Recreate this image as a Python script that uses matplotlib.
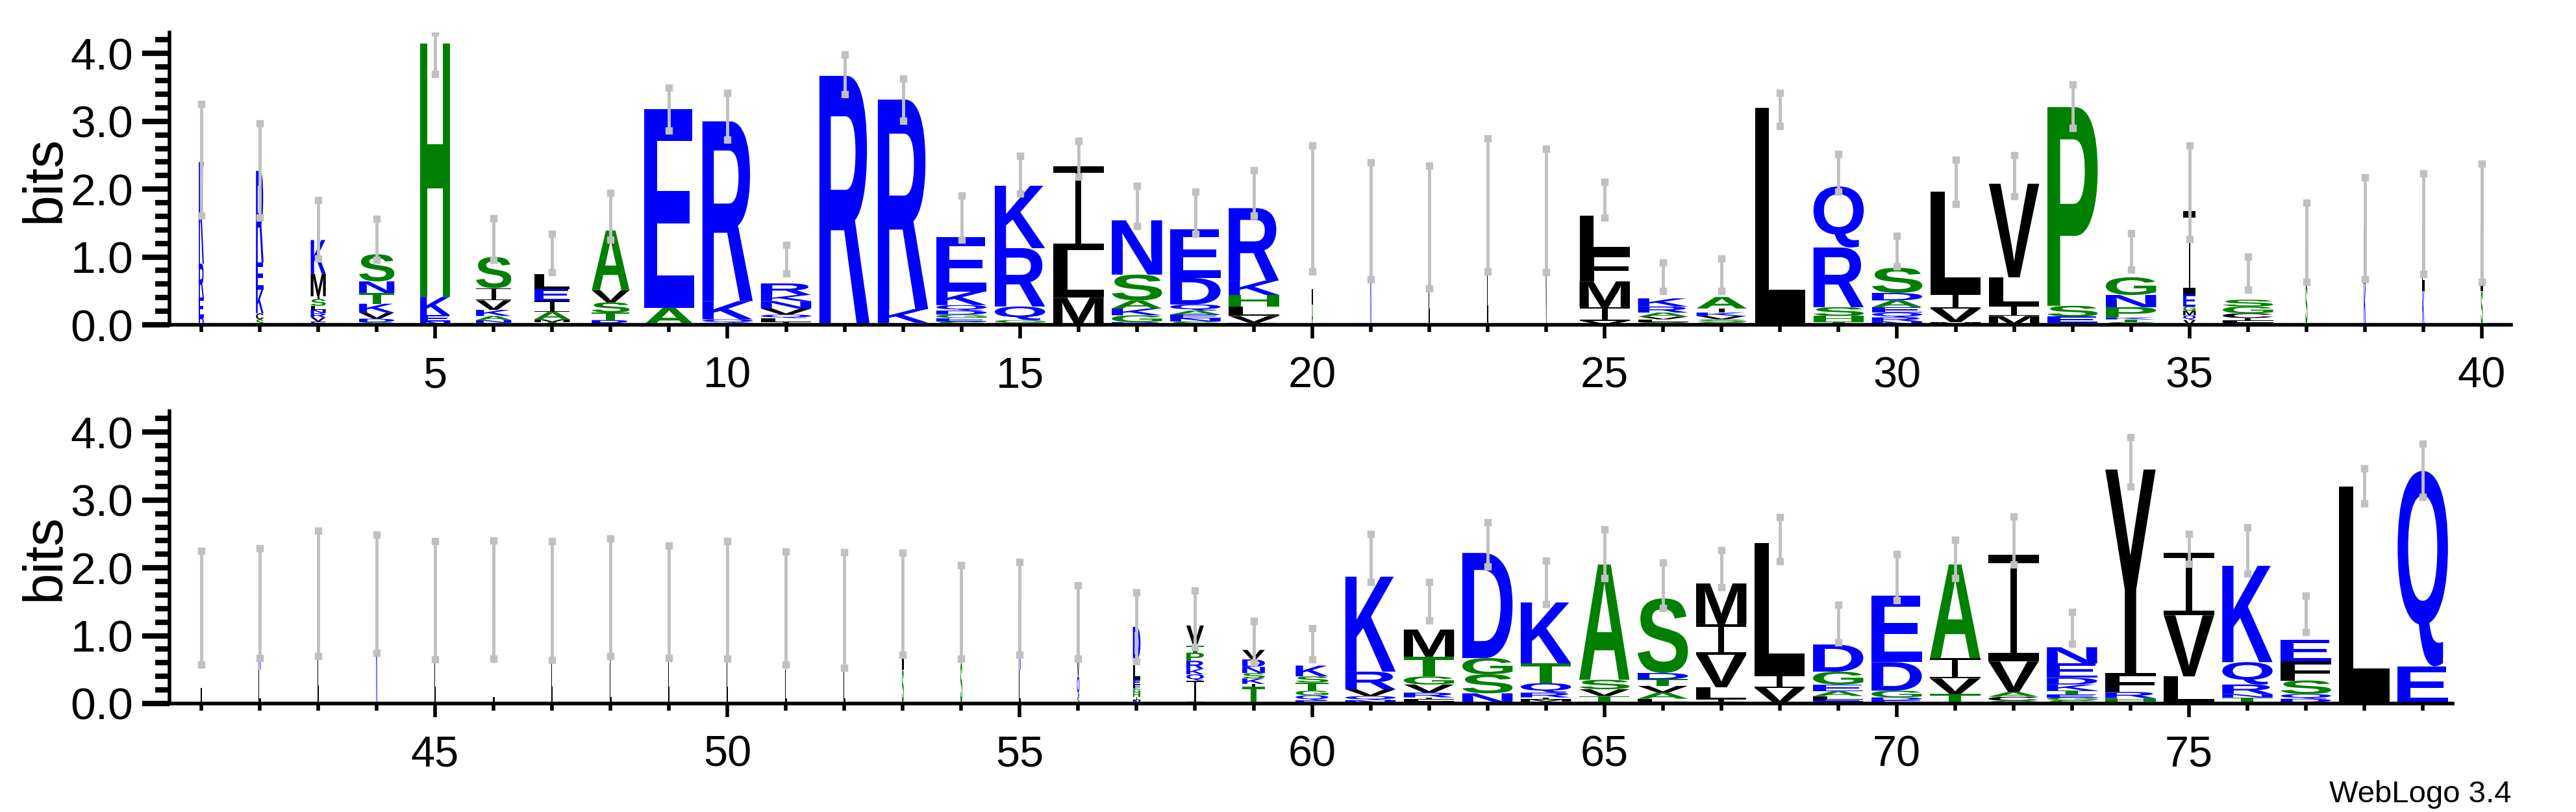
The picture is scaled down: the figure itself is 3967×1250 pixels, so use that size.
import matplotlib
matplotlib.use('Agg')
import matplotlib.pyplot as plt
from matplotlib.textpath import TextPath
from matplotlib.patches import PathPatch
from matplotlib.path import Path
from matplotlib.font_manager import FontProperties
from matplotlib.transforms import Affine2D

# colour scheme: hydrophilic blue, neutral green, hydrophobic black
colors = {}
for c in 'RKDENQ':
	colors[c] = '#0000ff'
for c in 'SGHTAP':
	colors[c] = '#008000'
for c in 'YVMCLFIW':
	colors[c] = '#000000'

# top row, positions 1-40: stacks bottom-to-top (letter, bits)
top_stacks = [
	[('D', .1), ('E', .3), ('R', .5), ('K', 1.5)],
	[('S', .08), ('C', .09), ('K', .35), ('E', .4), ('R', 1.35)],
	[('E', .05), ('V', .06), ('R', .06), ('N', .05), ('L', .06), ('S', .1), ('I', .04), ('M', .33), ('K', .5)],
	[('G', .04), ('D', .05), ('V', .09), ('K', .13), ('T', .16), ('N', .17), ('S', .4)],
	[('N', .05), ('E', .09), ('K', .27), ('H', 3.74)],
	[('L', .03), ('N', .04), ('A', .06), ('K', .09), ('V', .14), ('I', .18), ('S', .46)],
	[('T', .04), ('M', .04), ('A', .11), ('I', .16), ('E', .18), ('L', .22)],
	[('R', .07), ('T', .11), ('S', .15), ('V', .18), ('A', .88)],
	[('A', .25), ('E', 2.93)],
	[('N', .03), ('Q', .05), ('K', .27), ('R', 2.65)],
	[('I', .04), ('L', .06), ('Q', .05), ('V', .09), ('N', .11), ('K', .09), ('R', .17)],
	[('R', 3.67)],
	[('L', .03), ('K', .2), ('R', 3.09)],
	[('S', .05), ('E', .05), ('G', .05), ('D', .06), ('Q', .08), ('K', .2), ('E', .8)],
	[('L', .03), ('G', .04), ('Q', .2), ('R', .86), ('K', .92)],
	[('M', .4), ('L', .7), ('I', 1.24)],
	[('R', .04), ('G', .1), ('K', .1), ('A', .12), ('S', .38), ('N', .8)],
	[('S', .05), ('N', .05), ('E', .05), ('A', .06), ('Q', .09), ('D', .39), ('E', .72)],
	[('K', .03), ('V', .1), ('L', .14), ('H', .17), ('K', .21), ('R', 1.07)],
	[('A', .3), ('L', 1.42)],
	[('K', 1.54)],
	[('L', 1.45)],
	[('L', 1.78)],
	[('V', 1.68)],
	[('V', .06), ('I', .2), ('M', .38), ('F', .42), ('L', .55)],
	[('G', .04), ('L', .04), ('V', .04), ('A', .06), ('R', .09), ('K', .12)],
	[('G', .04), ('S', .04), ('V', .05), ('K', .05), ('I', .06), ('A', .17)],
	[('L', 3.2)],
	[('T', .05), ('H', .08), ('S', .13), ('R', .88), ('Q', .9)],
	[('N', .05), ('R', .06), ('Q', .07), ('E', .08), ('A', .1), ('D', .11), ('S', .37)],
	[('M', .04), ('V', .2), ('I', .22), ('L', 1.5)],
	[('M', .13), ('I', .15), ('L', .42), ('V', 1.38)],
	[('A', .03), ('E', .09), ('S', .16), ('P', 2.93)],
	[('S', .04), ('T', .04), ('K', .03), ('P', .15), ('N', .18), ('G', .26)],
	[('V', .07), ('Q', .07), ('M', .07), ('G', .06), ('E', .18), ('I', 1.23)],
	[('D', .03), ('L', .03), ('I', .04), ('C', .07), ('G', .1), ('S', .1)],
	[('S', .6), ('K', .6)],
	[('K', .6), ('L', .81)],
	[('K', .5), ('L', .98)],
	[('S', .5), ('L', .97)],
]
top_widths = [.1, .15, .3, .7, .6, .7, .7, .75, 1, 1, 1, 1, 1, 1, 1, 1, 1, 1, 1, .03,
	.03, .03, .03, .03, 1, 1, 1, 1, 1, 1, 1, 1, 1, 1, .25, 1, .04, .04, .04, .04]
top_err_lo = [1.61, 1.58, .98, .96, 3.70, .96, .78, 1.25, 2.86, 2.73, .76, 3.40, 3.01, 1.25, 1.93, 2.18, 1.46, 1.34, 1.61, .79,
	.67, .54, .79, .78, 1.58, .50, .50, 2.93, 1.96, .86, 1.78, 1.90, 2.90, .81, 1.26, .52, .63, .67, .75, .63]
top_err_hi = [3.26, 2.97, 1.84, 1.56, 4.31, 1.57, 1.34, 1.94, 3.50, 3.42, 1.18, 3.98, 3.63, 1.91, 2.49, 2.71, 2.05, 1.96, 2.28, 2.64,
	2.39, 2.35, 2.75, 2.60, 2.11, .92, .98, 3.42, 2.52, 1.31, 2.43, 2.50, 3.54, 1.35, 2.64, 1.01, 1.80, 2.17, 2.23, 2.38]

# bottom row, positions 41-79
bot_stacks = [
	[('L', 1.41)],
	[('L', .5), ('K', .97)],
	[('L', 1.63)],
	[('K', 1.55)],
	[('L', 1.53)],
	[('L', .6), ('K', .85)],
	[('L', 1.53)],
	[('L', .6), ('S', .97)],
	[('L', 1.51)],
	[('L', 1.53)],
	[('L', .5), ('S', .9)],
	[('L', .5), ('S', .9)],
	[('S', .5), ('L', .97)],
	[('S', .6), ('K', .76)],
	[('L', .5), ('K', .93)],
	[('S', .1), ('Q', .3), ('V', .3), ('K', .5)],
	[('N', .05), ('I', .05), ('H', .06), ('G', .06), ('F', .06), ('E', .07), ('L', .3), ('D', .48)],
	[('I', .34), ('Q', .09), ('K', .08), ('R', .12), ('P', .12), ('T', .1), ('V', .3)],
	[('T', .25), ('I', .04), ('K', .08), ('S', .08), ('N', .09), ('D', .11), ('V', .14)],
	[('E', .05), ('Q', .07), ('G', .07), ('T', .12), ('S', .09), ('K', .16)],
	[('N', .05), ('Q', .06), ('V', .1), ('R', .26), ('K', 1.4)],
	[('N', .03), ('L', .03), ('I', .03), ('R', .07), ('V', .12), ('G', .12), ('T', .29), ('M', .4)],
	[('N', .15), ('S', .28), ('G', .24), ('D', 1.55)],
	[('L', .03), ('M', .03), ('I', .03), ('R', .07), ('Q', .14), ('T', .29), ('K', .9)],
	[('G', .03), ('T', .08), ('V', .1), ('S', .14), ('A', 1.7)],
	[('E', .02), ('L', .05), ('A', .09), ('V', .1), ('T', .1), ('D', .09), ('S', 1.1)],
	[('G', .03), ('I', .03), ('L', .18), ('V', .48), ('I', .45), ('M', .6)],
	[('V', .23), ('I', .19), ('L', 1.95)],
	[('S', .03), ('E', .03), ('L', .05), ('A', .07), ('E', .1), ('G', .19), ('D', .4)],
	[('E', .05), ('D', .04), ('G', .1), ('D', .42), ('E', .98)],
	[('T', .14), ('V', .23), ('I', .3), ('A', 1.38)],
	[('G', .04), ('C', .06), ('A', .07), ('V', .45), ('I', 1.57)],
	[('S', .05), ('G', .04), ('E', .04), ('T', .06), ('K', .09), ('D', .1), ('E', .21), ('N', .24)],
	[('L', .03), ('H', .05), ('R', .09), ('F', .28), ('Y', 3.0)],
	[('L', .4), ('V', .9), ('I', .92)],
	[('T', .09), ('N', .05), ('R', .14), ('Q', .33), ('K', 1.42)],
	[('G', .02), ('D', .05), ('Q', .07), ('S', .2), ('F', .28), ('E', .32)],
	[('L', 3.2)],
	[('E', .55), ('Q', 2.88)],
]
bot_widths = [.03, .04, .03, .03, .03, .04, .03, .04, .03, .03, .04, .04, .04, .04, .04, .05, .15, .35, .45, .65,
	1, 1, 1, 1, 1, 1, 1, 1, 1, 1, 1, 1, 1, 1, 1, 1, 1, 1, 1]
bot_err_lo = [.57, .67, .70, .75, .65, .66, .64, .70, .67, .66, .57, .53, .72, .66, .72, .66, .62, .83, .60, .65,
	1.79, 1.23, 2.02, 1.47, 1.85, 1.41, 1.71, 2.10, .90, 1.52, 1.85, 2.05, .88, 3.20, 2.06, 1.92, 1.05, 2.95, 3.05]
bot_err_hi = [2.25, 2.29, 2.55, 2.49, 2.39, 2.40, 2.39, 2.43, 2.33, 2.39, 2.24, 2.23, 2.22, 2.04, 2.09, 1.74, 1.64, 1.67, 1.22, 1.11,
	2.50, 1.79, 2.67, 2.11, 2.57, 2.08, 2.26, 2.75, 1.46, 2.20, 2.41, 2.76, 1.35, 3.93, 2.50, 2.60, 1.59, 3.47, 3.83]

glyph_font = FontProperties(family='Liberation Sans', weight='bold')
glyphs = {}


def serif_i():
	'''WebLogo style I: bar, stem, bar in a unit box'''
	rects = [(0, 0, 1, .08), (.44, 0, .12, 1), (0, .92, 1, .08)]
	verts, codes = [], []
	for x, y, w, h in rects:
		verts += [(x, y), (x + w, y), (x + w, y + h), (x, y + h), (x, y)]
		codes += [Path.MOVETO, Path.LINETO, Path.LINETO, Path.LINETO, Path.CLOSEPOLY]
	return Path(verts, codes)


def draw_letter(ax, ch, x0, y0, w, h):
	'''stretch a glyph outline into the box x0,y0,w,h (data coords)'''
	if ch not in glyphs:
		glyphs[ch] = serif_i() if ch == 'I' else TextPath((0, 0), ch, size=100, prop=glyph_font)
	p = glyphs[ch]
	ext = p.get_extents()
	t = Affine2D().translate(-ext.x0, -ext.y0).scale(w / ext.width, h / ext.height).translate(x0, y0)
	ax.add_patch(PathPatch(t.transform_path(p), fc=colors[ch], ec='none', lw=0))


def draw_row(ax, first, stacks, widths, lo, hi, xmax):
	for i, stack in enumerate(stacks):
		pos = first + i
		w = 0.86 * widths[i]
		y = 0.0
		for ch, bits in stack:
			draw_letter(ax, ch, pos - w / 2, y, w, bits)
			y += bits
	xs = list(range(first, first + len(stacks)))
	ax.vlines(xs, lo, hi, color='#c0c0c0', lw=3.5, zorder=3)
	ax.plot(xs, lo, 's', color='#c0c0c0', ms=7, zorder=3)
	ax.plot(xs, hi, 's', color='#c0c0c0', ms=7, zorder=3)

	ax.set_xlim(first - 0.544, xmax)
	ax.set_ylim(0, 4.31)
	ax.spines['top'].set_visible(False)
	ax.spines['right'].set_visible(False)
	ax.spines['left'].set_linewidth(4)
	ax.spines['bottom'].set_linewidth(4)
	ax.set_yticks([0, 1, 2, 3, 4])
	ax.set_yticks([i * 0.2 for i in range(22)], minor=True)
	ax.set_yticklabels(['0.0', '1.0', '2.0', '3.0', '4.0'])
	ax.set_xticks([p for p in xs if p % 5 == 0])
	ax.set_xticks(xs, minor=True)
	ax.tick_params(axis='y', which='major', length=30, width=6, labelsize=50, pad=10)
	ax.tick_params(axis='y', which='minor', length=16, width=6)
	ax.tick_params(axis='x', which='major', length=15, width=4, labelsize=48, pad=20)
	ax.tick_params(axis='x', which='minor', length=8, width=4)
	for lab in ax.get_xticklabels() + ax.get_yticklabels():
		lab.set_family('Liberation Sans')


fig = plt.figure(figsize=(39.67, 12.5), dpi=100)
ax1 = fig.add_axes([0.0658, 0.6, 0.909, 0.36])
ax2 = fig.add_axes([0.0658, 0.1336, 0.8863, 0.36])
draw_row(ax1, 1, top_stacks, top_widths, top_err_lo, top_err_hi, 40.5)
draw_row(ax2, 41, bot_stacks, bot_widths, bot_err_lo, bot_err_hi, 79.51)
fig.text(0.0176, 0.779, 'bits', rotation=90, ha='center', va='center', fontsize=62, family='Liberation Sans')
fig.text(0.0176, 0.3136, 'bits', rotation=90, ha='center', va='center', fontsize=62, family='Liberation Sans')
fig.text(0.975, 0.012, 'WebLogo 3.4', ha='right', va='baseline', fontsize=34, family='Liberation Sans')

fig.savefig('out.png', dpi=100)
